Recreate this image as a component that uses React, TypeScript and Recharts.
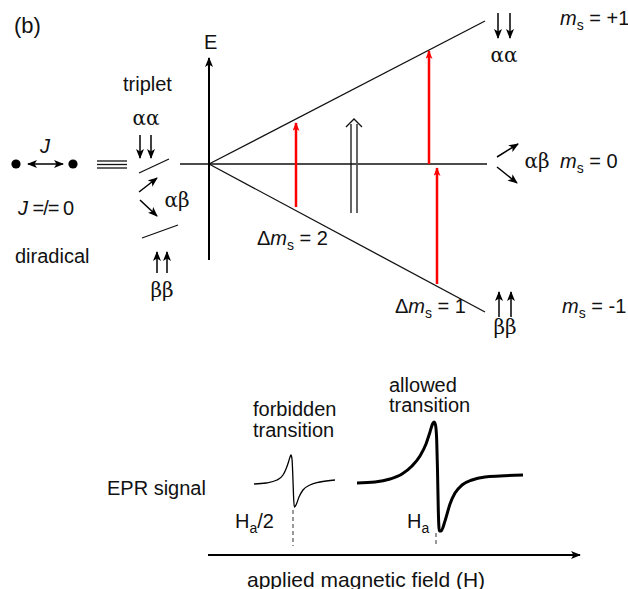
import { ComposedChart, Line, Scatter, XAxis, YAxis } from "recharts";

const W = 628;
const H = 589;
const SANS = "'Liberation Sans', Arial, sans-serif";
const SERIF = "'DejaVu Serif', 'Liberation Serif', serif";

type P = { x: number; y: number };

// energy levels vs field (figure units)
const levelLines: P[][] = [
  [{ x: 209, y: 164 }, { x: 485, y: 21 }],
  [{ x: 180, y: 164 }, { x: 487, y: 164 }],
  [{ x: 209, y: 164 }, { x: 485, y: 312 }],
];

// red transitions
const redArrows: P[][] = [
  [{ x: 296, y: 207 }, { x: 296, y: 123 }],
  [{ x: 429, y: 164 }, { x: 429, y: 51 }],
  [{ x: 437, y: 284 }, { x: 437, y: 168 }],
];

// small spin arrows
const spinArrows: P[][] = [
  [{ x: 140, y: 135 }, { x: 140, y: 158 }],
  [{ x: 151, y: 135 }, { x: 151, y: 158 }],
  [{ x: 139, y: 192 }, { x: 157, y: 178 }],
  [{ x: 140, y: 200 }, { x: 157, y: 216 }],
  [{ x: 157, y: 273 }, { x: 157, y: 252 }],
  [{ x: 167, y: 273 }, { x: 167, y: 252 }],
  [{ x: 498, y: 13 }, { x: 498, y: 38 }],
  [{ x: 510, y: 13 }, { x: 510, y: 38 }],
  [{ x: 497, y: 157 }, { x: 518, y: 144 }],
  [{ x: 497, y: 167 }, { x: 517, y: 183 }],
  [{ x: 499, y: 317 }, { x: 499, y: 292 }],
  [{ x: 511, y: 317 }, { x: 511, y: 292 }],
];

const thinLines: P[][] = [
  [{ x: 139, y: 173 }, { x: 169, y: 159 }],
  [{ x: 142, y: 238 }, { x: 178, y: 225 }],
  [{ x: 97, y: 161 }, { x: 127, y: 161 }],
  [{ x: 97, y: 164.5 }, { x: 127, y: 164.5 }],
  [{ x: 97, y: 168 }, { x: 127, y: 168 }],
  [{ x: 351, y: 213 }, { x: 351, y: 124 }],
  [{ x: 346, y: 127 }, { x: 354, y: 119 }, { x: 362, y: 127 }],
];
const hollowRight: P[] = [{ x: 357, y: 213 }, { x: 357, y: 124 }];

const couplingArrow: P[] = [{ x: 28, y: 164 }, { x: 63, y: 164 }];
const radicals: P[] = [{ x: 16, y: 164 }, { x: 73, y: 164 }];

const axisArrows: P[][] = [
  [{ x: 209, y: 260 }, { x: 209, y: 58 }],
  [{ x: 208, y: 555 }, { x: 580, y: 555 }],
];
const fieldMarks: P[][] = [
  [{ x: 293, y: 510 }, { x: 293, y: 546 }],
  [{ x: 436, y: 533 }, { x: 436, y: 546 }],
];

// EPR derivative lines
const eprForbidden: P[] = [
  { x: 254, y: 484 }, { x: 266, y: 483 }, { x: 277, y: 480 }, { x: 283, y: 475 },
  { x: 286, y: 469 }, { x: 288.5, y: 462 }, { x: 290, y: 457 }, { x: 291, y: 455 },
  { x: 292, y: 459 }, { x: 292.8, y: 475 }, { x: 293.5, y: 495 }, { x: 294.3, y: 507 },
  { x: 296, y: 505 }, { x: 299, y: 497 }, { x: 303, y: 490 }, { x: 310, y: 485 },
  { x: 320, y: 482 }, { x: 335, y: 480 },
];
const eprAllowed: P[] = [
  { x: 357, y: 483 }, { x: 375, y: 482 }, { x: 390, y: 479 }, { x: 402, y: 474 },
  { x: 412, y: 466 }, { x: 420, y: 456 }, { x: 426, y: 444 }, { x: 430, y: 432 },
  { x: 432.5, y: 424 }, { x: 434, y: 422 }, { x: 435.5, y: 425 }, { x: 436.7, y: 440 },
  { x: 437.5, y: 470 }, { x: 438.3, y: 510 }, { x: 439.3, y: 531 }, { x: 441, y: 531 },
  { x: 445, y: 521 }, { x: 450, y: 504 }, { x: 455, y: 493 }, { x: 462, y: 485 },
  { x: 472, y: 480 }, { x: 485, y: 477 }, { x: 500, y: 476 }, { x: 523, y: 475 },
];

// text
const panelTag = [{ x: 14, y: 33, text: "(b)" }];
const plainLabels = [
  { x: 204, y: 49, text: "E" },
  { x: 123, y: 91, text: "triplet" },
  { x: 15, y: 263, text: "diradical" },
  { x: 389, y: 392, text: "allowed" },
  { x: 389, y: 412, text: "transition" },
  { x: 253, y: 416, text: "forbidden" },
  { x: 253, y: 437, text: "transition" },
  { x: 107, y: 495, text: "EPR signal" },
];
const axisTitle = [{ x: 247, y: 587, text: "applied magnetic field (H)" }];
const greekLabels = [
  { x: 146, y: 125, text: "αα" },
  { x: 177, y: 207, text: "αβ" },
  { x: 162, y: 297, text: "ββ" },
  { x: 504, y: 62, text: "αα" },
  { x: 537, y: 168, text: "αβ" },
  { x: 505, y: 334, text: "ββ" },
];
const spinLabels = [
  { x: 560, y: 25, value: "+1" },
  { x: 560, y: 168, value: "0" },
  { x: 562, y: 313, value: "-1" },
];
const deltaLabels = [
  { x: 257, y: 245, value: "2" },
  { x: 395, y: 313, value: "1" },
];
const fieldLabels = [
  { x: 235, y: 528, suffix: "/2" },
  { x: 407, y: 528, suffix: "" },
];
const couplingLabels = [
  { x: 45, y: 153, text: "J", tail: "" },
  { x: 18, y: 215, text: "J", tail: " =/= 0" },
];

const textOf = (size: number) => (p: any) => (
  <text x={p.cx} y={p.cy} fontFamily={SANS} fontSize={size} fill="#111">
    {p.payload.text}
  </text>
);

const GreekText = (p: any) => (
  <text x={p.cx} y={p.cy} textAnchor="middle" fontFamily={SERIF} fontSize={20} fill="#111">
    {p.payload.text}
  </text>
);

const SpinText = (p: any) => (
  <text x={p.cx} y={p.cy} fontFamily={SANS} fontSize={20} fill="#111" style={{ whiteSpace: "pre" }}>
    <tspan fontStyle="italic">m</tspan>
    <tspan fontSize={14} dy={5}>s</tspan>
    <tspan dy={-5}>{" = " + p.payload.value}</tspan>
  </text>
);

const DeltaText = (p: any) => (
  <text x={p.cx} y={p.cy} fontFamily={SANS} fontSize={20} fill="#111" style={{ whiteSpace: "pre" }}>
    Δ<tspan fontStyle="italic">m</tspan>
    <tspan fontSize={14} dy={5}>s</tspan>
    <tspan dy={-5}>{" = " + p.payload.value}</tspan>
  </text>
);

const FieldText = (p: any) => (
  <text x={p.cx} y={p.cy} fontFamily={SANS} fontSize={20} fill="#111">
    H<tspan fontSize={14} dy={5}>a</tspan>
    <tspan dy={-5}>{p.payload.suffix}</tspan>
  </text>
);

const CouplingText = (p: any) => (
  <text
    x={p.cx}
    y={p.cy}
    textAnchor={p.payload.tail ? "start" : "middle"}
    fontFamily={SANS}
    fontSize={20}
    fill="#111"
    style={{ whiteSpace: "pre" }}
  >
    <tspan fontStyle="italic">{p.payload.text}</tspan>
    {p.payload.tail && <tspan letterSpacing={-1}>{p.payload.tail}</tspan>}
  </text>
);

const Dot = (p: any) => <circle cx={p.cx} cy={p.cy} r={4.6} fill="#000" />;

const seg = (data: P[], key: string, stroke: string, width: number, extra: any = {}) => (
  <Line
    key={key}
    data={data}
    dataKey="y"
    type="linear"
    stroke={stroke}
    strokeWidth={width}
    dot={false}
    activeDot={false}
    isAnimationActive={false}
    {...extra}
  />
);

export default function App() {
  return (
    <div style={{ position: "absolute", left: 0, top: 0, width: W, height: H, background: "#fff" }}>
      <svg width={0} height={0} style={{ position: "absolute" }}>
        <defs>
          <marker id="headK" viewBox="0 0 10 8" refX={9} refY={4} markerWidth={10} markerHeight={8} markerUnits="userSpaceOnUse" orient="auto-start-reverse">
            <path d="M0,0 L10,4 L0,8 L2.5,4 z" fill="#000" />
          </marker>
          <marker id="headAxis" viewBox="0 0 10 8" refX={9} refY={4} markerWidth={11} markerHeight={8} markerUnits="userSpaceOnUse" orient="auto">
            <path d="M0,0 L10,4 L0,8 L2.5,4 z" fill="#000" />
          </marker>
          <marker id="headR" viewBox="0 0 10 8" refX={9} refY={4} markerWidth={11} markerHeight={7} markerUnits="userSpaceOnUse" orient="auto">
            <path d="M0,0 L10,4 L0,8 L2.5,4 z" fill="#f00" />
          </marker>
        </defs>
      </svg>
      <ComposedChart width={W} height={H} margin={{ top: 0, right: 0, bottom: 0, left: 0 }}>
        <XAxis type="number" dataKey="x" domain={[0, W]} hide allowDataOverflow />
        <YAxis type="number" dataKey="y" domain={[0, H]} reversed hide allowDataOverflow width={0} />
        {levelLines.map((d, i) => seg(d, "lv" + i, "#111", 1.3))}
        {thinLines.map((d, i) => seg(d, "tl" + i, "#111", 1.3))}
        {seg(hollowRight, "hr", "#555", 1.8)}
        {spinArrows.map((d, i) => seg(d, "sa" + i, "#000", 1.5, { markerEnd: "url(#headK)" }))}
        {seg(couplingArrow, "cp", "#000", 1.6, { markerEnd: "url(#headK)", markerStart: "url(#headK)" })}
        {axisArrows.map((d, i) => seg(d, "ax" + i, "#000", 2, { markerEnd: "url(#headAxis)" }))}
        {redArrows.map((d, i) => seg(d, "ra" + i, "#f00", 2.5, { markerEnd: "url(#headR)" }))}
        {fieldMarks.map((d, i) => seg(d, "fm" + i, "#333", 1, { strokeDasharray: "4 3" }))}
        {seg(eprForbidden, "ef", "#000", 1.3, { type: "monotone" })}
        {seg(eprAllowed, "ea", "#000", 3, { type: "monotone" })}
        <Scatter data={radicals} shape={Dot} isAnimationActive={false} />
        <Scatter data={panelTag} shape={textOf(22)} isAnimationActive={false} />
        <Scatter data={plainLabels} shape={textOf(20)} isAnimationActive={false} />
        <Scatter data={axisTitle} shape={textOf(21)} isAnimationActive={false} />
        <Scatter data={greekLabels} shape={GreekText} isAnimationActive={false} />
        <Scatter data={spinLabels} shape={SpinText} isAnimationActive={false} />
        <Scatter data={deltaLabels} shape={DeltaText} isAnimationActive={false} />
        <Scatter data={fieldLabels} shape={FieldText} isAnimationActive={false} />
        <Scatter data={couplingLabels} shape={CouplingText} isAnimationActive={false} />
      </ComposedChart>
    </div>
  );
}
